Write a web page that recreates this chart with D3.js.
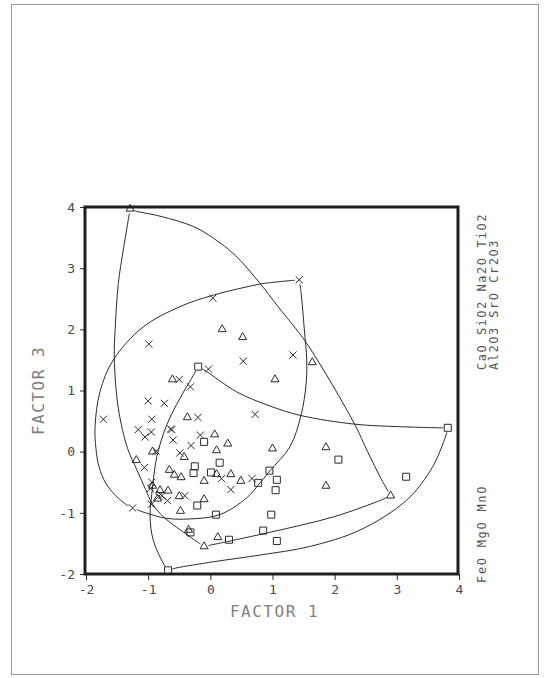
<!DOCTYPE html>
<html>
<head>
<meta charset="utf-8">
<script src="https://cdn.jsdelivr.net/npm/d3@7"></script>
<style>
  html, body { margin: 0; padding: 0; background: #ffffff; }
  svg { display: block; }
  text { font-family: "DejaVu Sans Mono", "Liberation Mono", monospace; }
</style>
</head>
<body>
<svg id="chart" width="547" height="678"></svg>
<script>
// ---------------- data ----------------
const xTicks = [-2, -1, 0, 1, 2, 3, 4];
const yTicks = [-2, -1, 0, 1, 2, 3, 4];
const xLabel = "FACTOR 1";
const yLabel = "FACTOR 3";
const rightLabelsTop = ["CaO SiO2 Na2O TiO2", "Al2O3 SrO Cr2O3"];
const rightLabelBottom = "FeO MgO MnO";

const crosses = [
  [1.43, 2.81], [0.04, 2.51], [-0.99, 1.76], [0.53, 1.48], [1.33, 1.58],
  [-0.03, 1.35], [-0.50, 1.18], [-0.32, 1.06], [-1.00, 0.83], [-0.74, 0.79],
  [0.72, 0.61], [-1.72, 0.53], [-0.94, 0.53], [-0.20, 0.56], [-1.16, 0.36],
  [-0.95, 0.32], [-0.64, 0.37], [-0.62, 0.36], [-0.60, 0.19], [-1.05, 0.24],
  [-0.16, 0.27], [-0.31, 0.10], [-0.87, 0.01], [-0.49, -0.02], [-1.06, -0.26],
  [0.18, -0.44], [0.67, -0.44], [0.33, -0.62], [-0.94, -0.50], [-0.96, -0.60],
  [-0.80, -0.70], [-0.78, -0.72], [-0.83, -0.73], [-0.69, -0.80], [-0.41, -0.72],
  [-0.95, -0.86], [-1.25, -0.92]
];
const triangles = [
  [-1.29, 3.97], [0.19, 2.00], [0.52, 1.87], [1.64, 1.46], [1.04, 1.18],
  [-0.61, 1.18], [-0.37, 0.56], [0.07, 0.28], [0.28, 0.13], [0.10, 0.02],
  [1.00, 0.05], [1.86, 0.07], [-0.93, 0.00], [-0.42, -0.09], [-1.19, -0.14],
  [-0.66, -0.30], [-0.58, -0.38], [-0.47, -0.42], [0.10, -0.37], [0.33, -0.37],
  [-0.10, -0.48], [0.49, -0.48], [1.86, -0.56], [2.90, -0.72], [-0.93, -0.56],
  [-0.81, -0.63], [-0.68, -0.64], [-0.85, -0.77], [-0.50, -0.73], [-0.10, -0.78],
  [-0.48, -0.97], [-0.35, -1.28], [0.12, -1.40], [-0.10, -1.55]
];
const squares = [
  [-0.195, 1.39], [3.82, 0.39], [-0.10, 0.16], [0.15, -0.18], [-0.25, -0.24],
  [-0.27, -0.35], [0.01, -0.34], [0.95, -0.31], [0.77, -0.51], [1.07, -0.46],
  [1.05, -0.63], [2.06, -0.13], [3.15, -0.41], [-0.21, -0.88], [0.09, -1.03],
  [0.98, -1.03], [-0.32, -1.32], [0.30, -1.44], [0.85, -1.29], [1.07, -1.46],
  [-0.68, -1.94]
];

const crossEnvLeft = [
  [1.43, 2.81], [0.93, 2.76], [0.80, 2.74], [0.05, 2.56], [-0.49, 2.37],
  [-1.08, 2.04], [-1.56, 1.50], [-1.775, 0.98], [-1.855, 0.40], [-1.84, 0.05],
  [-1.79, -0.25], [-1.68, -0.52], [-1.52, -0.72], [-1.36, -0.86], [-1.25, -0.92]
];
const crossEnvRight = [
  [1.43, 2.81], [1.46, 2.60], [1.51, 2.02], [1.55, 1.50], [1.54, 1.10],
  [1.46, 0.60], [1.28, 0.08], [0.96, -0.31], [0.80, -0.51], [0.58, -0.76],
  [0.15, -1.03], [-0.33, -1.10], [-0.70, -1.09], [-1.10, -0.98], [-1.25, -0.92]
];
const triEnvArc = [
  [-1.29, 3.97], [-1.19, 3.93], [-0.81, 3.85], [-0.27, 3.68], [0.05, 3.49],
  [0.40, 3.21], [0.80, 2.75], [1.09, 2.37], [1.55, 1.77], [2.32, 0.45],
  [2.53, 0.00], [2.75, -0.45], [2.90, -0.72]
];
const triEnvBase = [
  [2.90, -0.72], [2.75, -0.79], [2.00, -1.06], [0.95, -1.32], [-0.10, -1.55]
];
const triEnvLeft = [
  [-0.10, -1.55], [-0.33, -1.39], [-0.76, -1.06], [-0.94, -0.84], [-1.04, -0.62],
  [-1.18, -0.30], [-1.33, 0.05], [-1.48, 0.71], [-1.545, 1.53], [-1.53, 2.02],
  [-1.48, 2.75], [-1.40, 3.30], [-1.29, 3.97]
];
const sqEnvTop = [
  [-0.195, 1.39], [-0.06, 1.31], [0.42, 0.98], [0.95, 0.75], [1.46, 0.59],
  [2.32, 0.45], [3.00, 0.41], [3.71, 0.39], [3.82, 0.39]
];
const sqEnvBottom = [
  [3.82, 0.39], [3.80, 0.30], [3.58, -0.24], [3.16, -0.79], [2.41, -1.28],
  [1.60, -1.55], [0.80, -1.69], [0.05, -1.80], [-0.54, -1.90], [-0.68, -1.94]
];
const sqEnvLeft = [
  [-0.68, -1.94], [-0.76, -1.82], [-0.92, -1.44], [-0.97, -1.06], [-0.94, -0.68],
  [-0.86, -0.08], [-0.70, 0.44], [-0.49, 0.87], [-0.30, 1.20], [-0.195, 1.39]
];
const envelopes = [crossEnvLeft, crossEnvRight, triEnvArc, triEnvBase, triEnvLeft,
                   sqEnvTop, sqEnvBottom, sqEnvLeft];

// ---------------- drawing ----------------
const svg = d3.select("#chart");
const ink = "#2b2b2b";

// page border
svg.append("rect")
  .attr("x", 11.5).attr("y", 4.5).attr("width", 527).attr("height", 670)
  .attr("fill", "none").attr("stroke", "#9a9a9a").attr("stroke-width", 1);

const x = d3.scaleLinear().domain([-2, 4]).range([86, 459]);
const y = d3.scaleLinear().domain([-2, 4]).range([574, 207]);

// axes
const fmt = d => String(d);
const gx = svg.append("g").attr("transform", `translate(0,${y(-2)})`)
  .call(d3.axisBottom(x).tickValues(xTicks).tickFormat(fmt).tickSize(6).tickPadding(5).tickSizeOuter(0));
const gy = svg.append("g").attr("transform", `translate(${x(-2)},0)`)
  .call(d3.axisLeft(y).tickValues(yTicks).tickFormat(fmt).tickSize(6).tickPadding(5).tickSizeOuter(0));
[gx, gy].forEach(g => {
  g.select(".domain").remove();
  g.selectAll(".tick line").attr("stroke", ink).attr("stroke-width", 1);
  g.selectAll(".tick text").attr("fill", "#4a4a4a")
    .style("font-family", '"DejaVu Sans Mono", monospace').style("font-size", "13px");
});

// envelope curves: ends trimmed so they stop at the marker outline
const trim = 4.5;
function trimmedPixels(pts) {
  const p = pts.map(d => [x(d[0]), y(d[1])]);
  const cut = (a, b) => {
    const dx = b[0] - a[0], dy = b[1] - a[1], L = Math.hypot(dx, dy) || 1;
    return [a[0] + dx / L * trim, a[1] + dy / L * trim];
  };
  p[0] = cut(p[0], p[1]);
  p[p.length - 1] = cut(p[p.length - 1], p[p.length - 2]);
  return p;
}
const line = d3.line().curve(d3.curveCatmullRom.alpha(0.5));
svg.append("g").selectAll("path").data(envelopes).join("path")
  .attr("d", d => line(trimmedPixels(d)))
  .attr("fill", "none").attr("stroke", ink).attr("stroke-width", 1);

// markers
const mg = svg.append("g").attr("fill", "none").attr("stroke", ink).attr("stroke-width", 1);
const tri = d3.symbol(d3.symbolTriangle, 28);
const sq = d3.symbol(d3.symbolSquare, 49);
mg.selectAll("path.tri").data(triangles).join("path").attr("class", "tri")
  .attr("transform", d => `translate(${x(d[0])},${y(d[1])})`).attr("d", tri);
mg.selectAll("path.sq").data(squares).join("path").attr("class", "sq")
  .attr("transform", d => `translate(${x(d[0])},${y(d[1])})`).attr("d", sq);
const h = 3.6;
mg.selectAll("path.cr").data(crosses).join("path").attr("class", "cr")
  .attr("transform", d => `translate(${x(d[0])},${y(d[1])})`)
  .attr("d", `M${-h},${-h}L${h},${h}M${-h},${h}L${h},${-h}`);

// frame
svg.append("rect")
  .attr("x", x(-2) - 1).attr("y", y(4))
  .attr("width", x(4) - x(-2)).attr("height", y(-2) - y(4))
  .attr("fill", "none").attr("stroke", "#1e1e1e").attr("stroke-width", 3);

// axis titles
svg.append("text").attr("x", (x(-2) + x(4)) / 2 + 2).attr("y", 617)
  .attr("text-anchor", "middle").attr("fill", "#808080").style("font-size", "16px")
  .style("letter-spacing", "1.5px").text(xLabel);
svg.append("text").attr("transform", `translate(44,${(y(-2) + y(4)) / 2}) rotate(-90)`)
  .attr("text-anchor", "middle").attr("fill", "#808080").style("font-size", "16px")
  .style("letter-spacing", "1.5px").text(yLabel);

// right-hand labels
rightLabelsTop.forEach((t, i) => {
  svg.append("text").attr("transform", `translate(${486 + i * 12},370) rotate(-90)`)
    .attr("text-anchor", "start").attr("fill", "#555").style("font-size", "12px")
    .style("letter-spacing", "1.5px").text(t);
});
svg.append("text").attr("transform", `translate(486,583) rotate(-90)`)
  .attr("text-anchor", "start").attr("fill", "#555").style("font-size", "12px")
  .style("letter-spacing", "1.7px").text(rightLabelBottom);
</script>
</body>
</html>
